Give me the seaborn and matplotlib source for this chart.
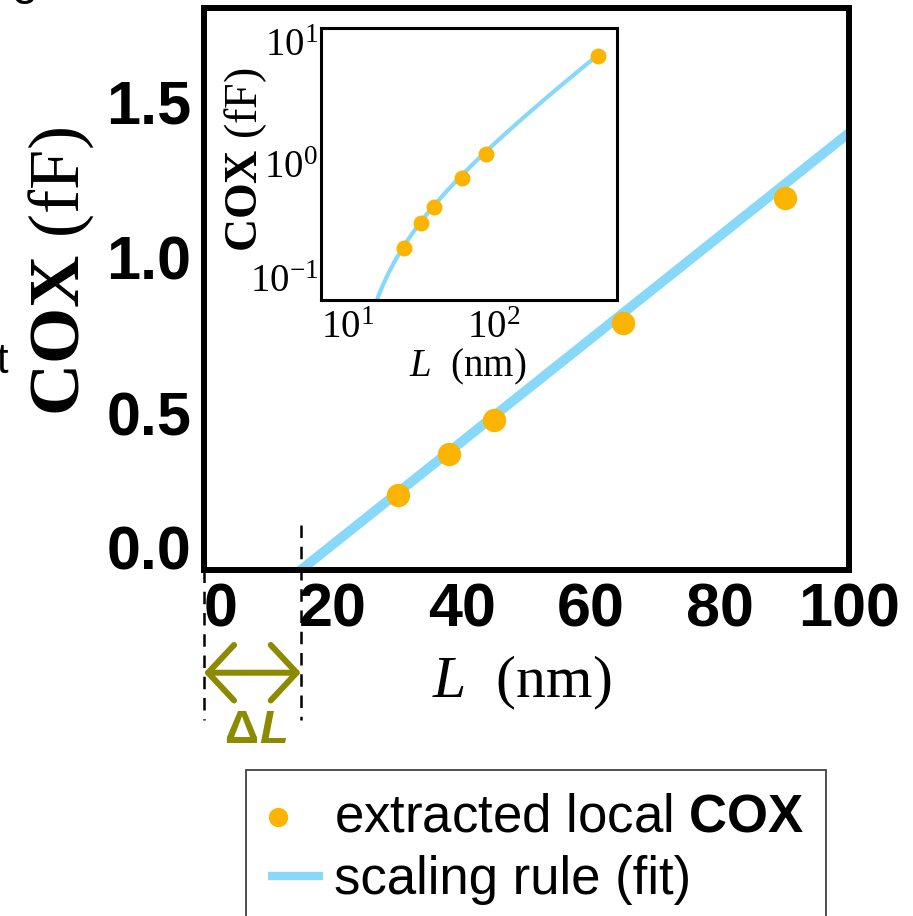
import numpy as np
import pandas as pd
import matplotlib
matplotlib.use("Agg")
import matplotlib.pyplot as plt
import seaborn as sns
from matplotlib.ticker import LogLocator, NullFormatter
from matplotlib.patches import FancyArrowPatch
from matplotlib.legend_handler import HandlerPathCollection

# Extracted local oxide capacitance versus channel length
length_nm = [30, 38, 45, 65, 90, 400]
cox_fF = [0.24, 0.37, 0.48, 0.79, 1.19, 6.2]

# Linear scaling rule: COX = k * (L - delta_L)
delta_L = 15.0
slope_k = 0.01647

main_xticks = [0, 20, 40, 60, 80, 100]
main_yticks = [0.0, 0.5, 1.0, 1.5]
inset_xticks = [10, 100]
inset_xticklabels = [r"$10^{1}$", r"$10^{2}$"]
inset_yticks = [0.1, 1, 10]
inset_yticklabels = [r"$10^{-1}$", r"$10^{0}$", r"$10^{1}$"]

ORANGE = "#FBB400"
SKY = "#88D8FA"
OLIVE = "#8C8A00"
SERIF = "Liberation Serif"

sns.set_style("white")
plt.rcParams.update({
    "font.family": ["Liberation Sans", "DejaVu Sans"],
    "mathtext.fontset": "custom",
    "mathtext.rm": "Liberation Serif",
    "mathtext.it": "Liberation Serif:italic",
    "mathtext.bf": "Liberation Serif:bold",
    "mathtext.sf": "Liberation Sans:bold",
    "axes.edgecolor": "black",
    "text.color": "black",
    "axes.labelcolor": "black",
    "xtick.color": "black",
    "ytick.color": "black",
})

W, H = 913, 916
fig = plt.figure(figsize=(W / 100, H / 100), dpi=100)


def box(x0, y0, x1, y1):
    return [x0 / W, 1 - y1 / H, (x1 - x0) / W, (y1 - y0) / H]


ax = fig.add_axes(box(204, 8, 849, 570))
axin = fig.add_axes(box(321, 28, 617, 300))

points = pd.DataFrame({"L": length_nm, "COX": cox_fF})

# ---- main panel -------------------------------------------------------
main_L = np.array([delta_L, main_xticks[-1]])
fit_main = pd.DataFrame({"L": main_L, "COX": slope_k * (main_L - delta_L)})

sns.lineplot(data=fit_main, x="L", y="COX", ax=ax, color=SKY, lw=7,
             solid_capstyle="round", estimator=None, sort=False,
             label="scaling rule (fit)", legend=False, zorder=2)
sns.scatterplot(data=points, x="L", y="COX", ax=ax, s=282, color=ORANGE,
                linewidth=0, label=r"extracted local $\mathsf{COX}$",
                legend=False, zorder=3)

ax.set_xlim(0, 100)
ax.set_ylim(0, 1.8)
ax.set_xticks(main_xticks, labels=[f"{v:g}" for v in main_xticks],
              fontsize=44, fontweight="bold")
ax.set_yticks(main_yticks, labels=[f"{v:.1f}" for v in main_yticks],
              fontsize=44, fontweight="bold")
ax.get_xticklabels()[0].set_horizontalalignment("left")
ax.get_yticklabels()[0].set_verticalalignment("baseline")
ax.tick_params(direction="in", length=14, width=1.6, pad=9,
               top=False, right=False)
for s in ax.spines.values():
    s.set_linewidth(4.3)

ax.set_xlabel(r"$L$  (nm)", fontsize=43, fontfamily=SERIF, va="center")
ax.xaxis.set_label_coords(0.493, -0.201)
ax.set_ylabel(r"$\mathbf{COX}$ (fF)", fontsize=52, fontfamily=SERIF,
              va="center", rotation_mode="anchor")
ax.yaxis.set_label_coords(-0.222, 0.532)

# offset ΔL marked below the axis
dash = (0, (5, 3.5))
ax.plot([0, 0], [0, -0.48], color="black", lw=1.8, ls=dash, clip_on=False, zorder=1)
ax.plot([delta_L, delta_L], [0.144, -0.48], color="black", lw=1.8, ls=dash,
        clip_on=False, zorder=1)
arrow = FancyArrowPatch((0, -0.329), (delta_L, -0.329),
                        arrowstyle="<->,head_length=18.7,head_width=20",
                        mutation_scale=1, lw=4.3, color=OLIVE,
                        capstyle="round", joinstyle="round",
                        shrinkA=0, shrinkB=0, clip_on=False,
                        transform=ax.transData)
ax.add_patch(arrow)
fig.text(241 / W, 1 - 731 / H, "Δ", ha="center", va="center", fontsize=34,
         fontweight="bold", color=OLIVE)
fig.text(274 / W, 1 - 731 / H, "L", ha="center", va="center", fontsize=34,
         fontweight="bold", fontstyle="italic", color=OLIVE)

# ---- inset (log-log) --------------------------------------------------
inset_L = np.geomspace(delta_L + 0.5, length_nm[-1], 400)
fit_inset = pd.DataFrame({"L": inset_L, "COX": slope_k * (inset_L - delta_L)})
sns.lineplot(data=fit_inset, x="L", y="COX", ax=axin, color=SKY, lw=3,
             estimator=None, sort=False, legend=False, zorder=2)
sns.scatterplot(data=points, x="L", y="COX", ax=axin, s=132, color=ORANGE,
                linewidth=0, legend=False, zorder=3)
axin.set_xscale("log")
axin.set_yscale("log")
axin.set_xlim(10, 515)
axin.set_ylim(0.1, 10)
axin.set_xticks(inset_xticks, labels=inset_xticklabels, fontsize=28)
axin.set_yticks(inset_yticks, labels=inset_yticklabels, fontsize=28)
for axis in (axin.xaxis, axin.yaxis):
    axis.set_minor_locator(LogLocator(base=10, subs=np.arange(2, 10), numticks=20))
    axis.set_minor_formatter(NullFormatter())
axin.get_xticklabels()[0].set_horizontalalignment("left")
axin.get_yticklabels()[0].set_verticalalignment("bottom")
axin.get_yticklabels()[-1].set_verticalalignment("top")
axin.tick_params(which="both", direction="in", length=6.5, width=1.1,
                 top=False, right=False)
axin.tick_params(axis="y", pad=2)
axin.tick_params(axis="x", pad=7)
for s in axin.spines.values():
    s.set_linewidth(2.2)
axin.set_xlabel(r"$L$  (nm)", fontsize=28, fontfamily=SERIF, va="center")
axin.xaxis.set_label_coords(0.497, -0.246)
axin.set_ylabel(r"$\mathbf{COX}$ (fF)", fontsize=33, fontfamily=SERIF,
                va="center", rotation_mode="anchor")
axin.yaxis.set_label_coords(-0.255, 0.515)


# ---- legend -----------------------------------------------------------
class LeftDotHandler(HandlerPathCollection):
    """Scatter legend entry with the dot near the left end of the handle."""

    def get_xdata(self, legend, xdescent, ydescent, width, height, fontsize):
        x = [-xdescent + 0.18 * width]
        return x, x


handles, labels = ax.get_legend_handles_labels()
order = [labels.index(r"extracted local $\mathsf{COX}$"), labels.index("scaling rule (fit)")]
sc_handle = handles[order[0]]
leg = fig.legend([handles[i] for i in order], [labels[i] for i in order],
                 loc="upper left", bbox_to_anchor=(246 / W, 1 - 770 / H),
                 bbox_transform=fig.transFigure, borderaxespad=0,
                 frameon=True, fancybox=False, edgecolor="black",
                 fontsize=38, handlelength=1.04, handletextpad=0.2,
                 borderpad=0.42, labelspacing=0.25, markerscale=0.83,
                 handler_map={sc_handle: LeftDotHandler()})
leg.get_frame().set_linewidth(1.2)
for ln in leg.get_lines():
    ln.set_solid_capstyle("butt")
    ln.set_linewidth(6)

# fragments of neighbouring panel text at the left edge
fig.text(8 / W, 1 - 362 / H, "t", ha="right", va="center", fontsize=30)
fig.text(12 / W, 1 + 6 / H, "g", ha="left", va="baseline", fontsize=34)

fig.savefig("out.png", dpi=100)
